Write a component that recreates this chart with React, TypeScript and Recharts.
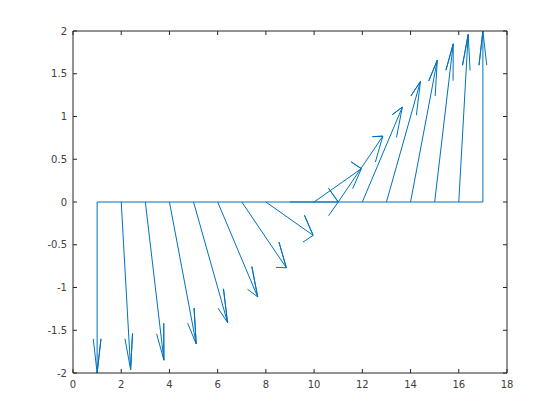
import React from 'react';
import { LineChart, Line, XAxis, YAxis } from 'recharts';

// feather plot: 17 arrows rooted on y = 0 at x = 1..17
const BASE_X = [1, 2, 3, 4, 5, 6, 7, 8, 9, 10, 11, 12, 13, 14, 15, 16, 17];
const U = [0, 0.39, 0.77, 1.11, 1.41, 1.66, 1.85, 1.96, 2, 1.96, 1.85, 1.66, 1.41, 1.11, 0.77, 0.39, 0];
const V = [-2, -1.96, -1.85, -1.66, -1.41, -1.11, -0.77, -0.39, 0, 0.39, 0.77, 1.11, 1.41, 1.66, 1.85, 1.96, 2];

const X_TICKS = [0, 2, 4, 6, 8, 10, 12, 14, 16, 18];
const Y_TICKS = [-2, -1.5, -1, -0.5, 0, 0.5, 1, 1.5, 2];

const BLUE = '#0072BD';
const AXIS = '#262626';
const LABEL = '#404040';
const FONT = '"DejaVu Sans", sans-serif';

// shaft + two head strokes, the same shape feather uses
const arrows = BASE_X.map((x0, i) => {
  const u = U[i];
  const v = V[i];
  return [
    { x: x0, y: 0 },
    { x: x0 + u, y: v },
    { x: x0 + 0.8 * u - 0.08 * v, y: 0.8 * v + 0.08 * u },
    { x: x0 + u, y: v },
    { x: x0 + 0.8 * u + 0.08 * v, y: 0.8 * v - 0.08 * u },
  ];
});

const baseLine = [
  { x: BASE_X[0], y: 0 },
  { x: BASE_X[BASE_X.length - 1], y: 0 },
];

const BottomTick = ({ x, y, payload }: any) => (
  <g>
    <line x1={x} y1={y} x2={x} y2={y - 4} stroke={AXIS} />
    <text x={x} y={y + 15} textAnchor="middle" fill={LABEL} fontSize={10} fontFamily={FONT}>
      {payload.value}
    </text>
  </g>
);

const TopTick = ({ x, y }: any) => <line x1={x} y1={y} x2={x} y2={y + 4} stroke={AXIS} />;

const LeftTick = ({ x, y, payload }: any) => (
  <g>
    <line x1={x} y1={y} x2={x + 4} y2={y} stroke={AXIS} />
    <text x={x - 6} y={y} dy="0.35em" textAnchor="end" fill={LABEL} fontSize={10} fontFamily={FONT}>
      {payload.value}
    </text>
  </g>
);

const RightTick = ({ x, y }: any) => <line x1={x} y1={y} x2={x - 4} y2={y} stroke={AXIS} />;

export default function App() {
  return (
    <div style={{ position: 'absolute', left: 0, top: 0, width: 560, height: 420, background: '#fff' }}>
      <LineChart width={560} height={420} margin={{ top: 30, right: 52, bottom: 46, left: 72 }}>
        <XAxis
          xAxisId="b"
          type="number"
          dataKey="x"
          domain={[0, 18]}
          ticks={X_TICKS}
          interval={0}
          height={1}
          tickSize={0}
          tickMargin={0}
          tickLine={false}
          axisLine={{ stroke: AXIS }}
          tick={BottomTick}
          allowDataOverflow
        />
        <XAxis
          xAxisId="t"
          orientation="top"
          type="number"
          dataKey="x"
          domain={[0, 18]}
          ticks={X_TICKS}
          interval={0}
          height={1}
          tickSize={0}
          tickMargin={0}
          tickLine={false}
          axisLine={{ stroke: AXIS }}
          tick={TopTick}
          allowDataOverflow
        />
        <YAxis
          yAxisId="l"
          type="number"
          domain={[-2, 2]}
          ticks={Y_TICKS}
          interval={0}
          width={1}
          tickSize={0}
          tickMargin={0}
          tickLine={false}
          axisLine={{ stroke: AXIS }}
          tick={LeftTick}
          allowDataOverflow
        />
        <YAxis
          yAxisId="r"
          orientation="right"
          type="number"
          domain={[-2, 2]}
          ticks={Y_TICKS}
          interval={0}
          width={1}
          tickSize={0}
          tickMargin={0}
          tickLine={false}
          axisLine={{ stroke: AXIS }}
          tick={RightTick}
          allowDataOverflow
        />
        <Line
          xAxisId="b"
          yAxisId="l"
          data={baseLine}
          dataKey="y"
          stroke={BLUE}
          strokeWidth={1}
          dot={false}
          isAnimationActive={false}
        />
        {arrows.map((pts, i) => (
          <Line
            key={i}
            xAxisId="b"
            yAxisId="l"
            data={pts}
            dataKey="y"
            stroke={BLUE}
            strokeWidth={1}
            dot={false}
            isAnimationActive={false}
          />
        ))}
      </LineChart>
    </div>
  );
}
